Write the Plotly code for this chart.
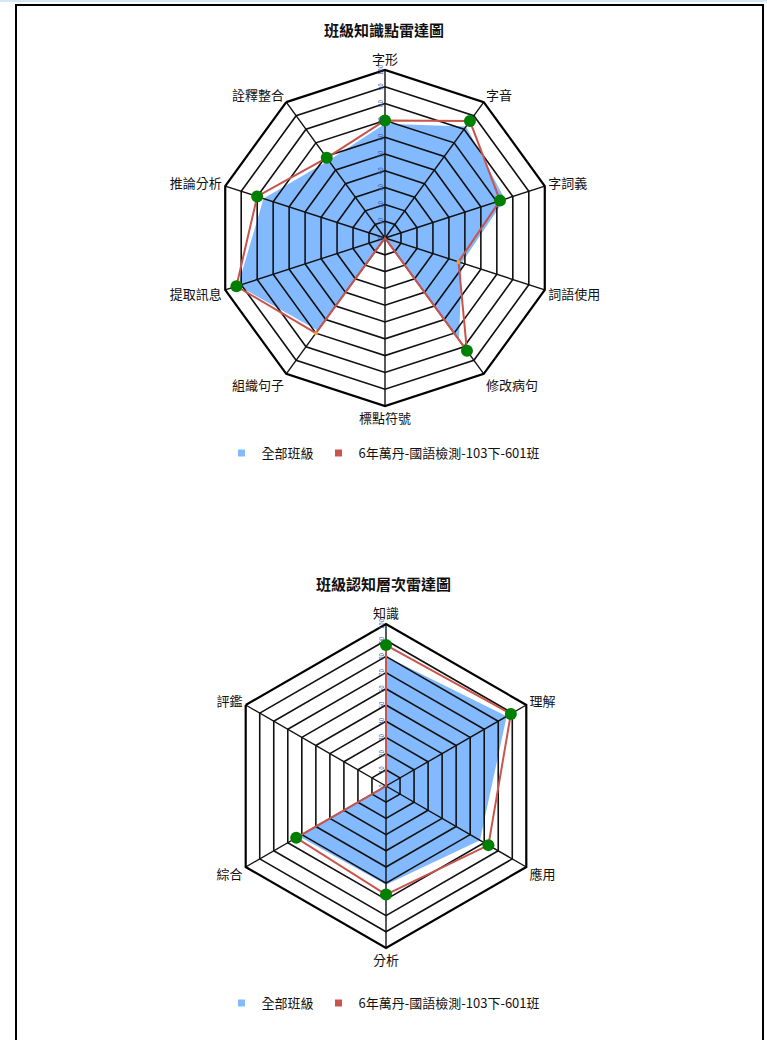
import plotly.graph_objects as go

# ---------- data ----------
cats1 = ["字形", "字音", "字詞義", "詞語使用", "修改病句", "標點符號", "組織句子", "提取訊息", "推論分析", "詮釋整合"]
all_classes1 = [68, 82, 75, 48, 75, 0, 68, 92, 76, 57]
class601_1 = [70, 86, 72, 46, 83, 0, 70, 93, 80, 59]
green1 = [70, 86, 72, None, 83, 0, None, 93, 80, 59]

cats2 = ["知識", "理解", "應用", "分析", "綜合", "評鑑"]
all_classes2 = [80, 86, 67, 61, 62, 0]
class601_2 = [87, 89, 73, 67, 64, 0]
green2 = [87, 89, 73, 67, 64, None]

title1 = "班級知識點雷達圖"
title2 = "班級認知層次雷達圖"
name_all = "全部班級"
name_601 = "6年萬丹-國語檢測-103下-601班"
radial_ticks = [0, 10, 20, 30, 40, 50, 60, 70, 80, 90, 100]
r_max = 100

# ---------- styles ----------
W, H = 767, 1040
FONT = "Noto Sans CJK TC"
BLUE = "#82B9FF"
RED = "#C8544C"
GREEN = "#008000"
ORANGE = "#F0A030"
GRID = "#111111"


def close(lst):
    return lst + lst[:1]


fig = go.Figure()


def add_radar(subplot, cats, all_v, cls_v, grn_v, legend):
    fig.add_trace(go.Scatterpolar(
        r=close(all_v), theta=close(cats), mode="lines", fill="toself",
        fillcolor=BLUE, line=dict(color="rgba(0,0,0,0)", width=0),
        name=name_all, showlegend=False, subplot=subplot, hoverinfo="skip"))
    # grid rings and spokes drawn over the fill
    for t in radial_ticks[1:-1]:
        fig.add_trace(go.Scatterpolar(
            r=[t] * (len(cats) + 1), theta=close(cats), mode="lines",
            line=dict(color=GRID, width=1.6), showlegend=False,
            subplot=subplot, hoverinfo="skip"))
    for c in cats:
        fig.add_trace(go.Scatterpolar(
            r=[0, r_max], theta=[c, c], mode="lines",
            line=dict(color=GRID, width=1.4), showlegend=False,
            subplot=subplot, hoverinfo="skip"))
    fig.add_trace(go.Scatterpolar(
        r=close(cls_v), theta=close(cats), mode="lines+markers",
        line=dict(color=RED, width=2), marker=dict(color=ORANGE, size=4),
        name=name_601, showlegend=False, subplot=subplot))
    fig.add_trace(go.Scatterpolar(
        r=grn_v, theta=cats, mode="markers",
        marker=dict(color=GREEN, size=12), showlegend=False, subplot=subplot))
    # legend entries
    fig.add_trace(go.Scatterpolar(
        r=[None], theta=[cats[0]], mode="markers",
        marker=dict(color=BLUE, size=7, symbol="square"),
        name=name_all, subplot=subplot, legend=legend))
    fig.add_trace(go.Scatterpolar(
        r=[None], theta=[cats[0]], mode="markers",
        marker=dict(color=RED, size=7, symbol="square"),
        name=name_601, subplot=subplot, legend=legend))


add_radar("polar", cats1, all_classes1, class601_1, green1, "legend")
add_radar("polar2", cats2, all_classes2, class601_2, green2, "legend2")


def polar_layout(dx, dy):
    return dict(
        domain=dict(x=dx, y=dy),
        gridshape="linear",
        bgcolor="white",
        radialaxis=dict(
            range=[0, r_max], tickvals=radial_ticks, angle=90,
            side="counterclockwise",
            showline=False, showgrid=False,
            tickfont=dict(size=6, color="#3050A0", family=FONT),
            ticks="", showticklabels=True, layer="above traces"),
        angularaxis=dict(
            rotation=90, direction="clockwise",
            linecolor="black", linewidth=2.2, showgrid=False,
            ticks="", tickfont=dict(size=13, color="#111", family=FONT)),
    )


legend_common = dict(orientation="h", x=0.5, xanchor="center", yanchor="middle",
                     font=dict(size=13, family=FONT, color="#111"),
                     itemwidth=30, bgcolor="rgba(0,0,0,0)")

fig.update_layout(
    width=W, height=H,
    margin=dict(l=0, r=0, t=0, b=0),
    paper_bgcolor="white",
    font=dict(family=FONT, color="#111"),
    polar=polar_layout([217 / W, 553 / W], [1 - 406 / H, 1 - 70 / H]),
    polar2=polar_layout([224 / W, 548 / W], [1 - 948 / H, 1 - 624 / H]),
    legend=dict(y=1 - 453 / H, **legend_common),
    legend2=dict(y=1 - 1003 / H, **legend_common),
    annotations=[
        dict(text="<b>" + title1 + "</b>", x=0.5, y=1 - 29 / H, xref="paper", yref="paper",
             xanchor="center", yanchor="middle",
             showarrow=False, font=dict(size=15, family=FONT, color="#111")),
        dict(text="<b>" + title2 + "</b>", x=0.5, y=1 - 583 / H, xref="paper", yref="paper",
             xanchor="center", yanchor="middle",
             showarrow=False, font=dict(size=15, family=FONT, color="#111")),
    ],
    shapes=[
        dict(type="rect", xref="paper", yref="paper", x0=0, x1=1, y0=1 - 2 / H, y1=1,
             fillcolor="#D6E6F2", line=dict(width=0), layer="below"),
        dict(type="rect", xref="paper", yref="paper", x0=16 / W, x1=763 / W,
             y0=-0.01, y1=1 - 5 / H, line=dict(color="black", width=2), layer="above"),
    ],
)

fig.write_html("out.html", config={"displayModeBar": False},
               post_script="document.body.style.margin='0';")
